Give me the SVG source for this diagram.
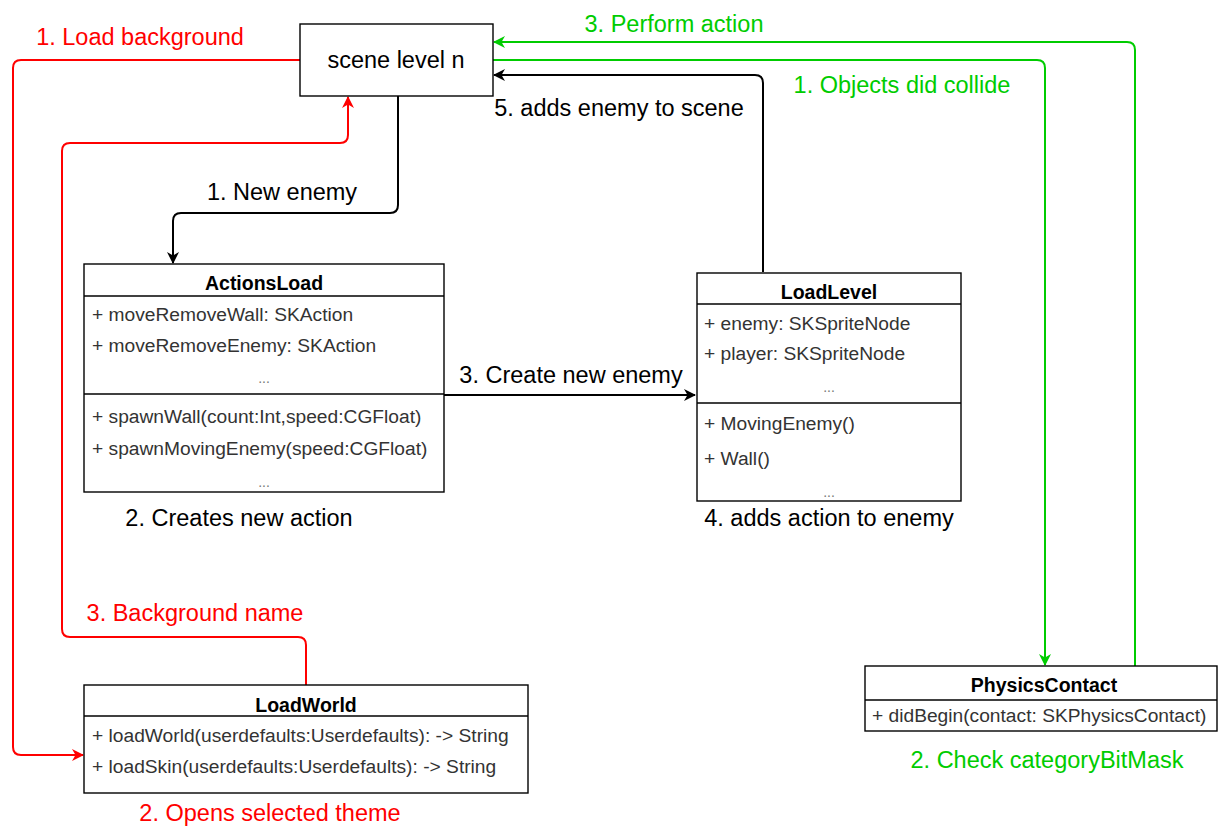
<svg xmlns="http://www.w3.org/2000/svg" width="1218" height="827" viewBox="0 0 1218 827">
<defs>
<marker id="ab" markerWidth="12" markerHeight="12" refX="11" refY="6" orient="auto" markerUnits="userSpaceOnUse"><path d="M0,0 L12,6 L0,12 L3.5,6 z" fill="#000"/></marker>
<marker id="ar" markerWidth="12" markerHeight="12" refX="11" refY="6" orient="auto" markerUnits="userSpaceOnUse"><path d="M0,0 L12,6 L0,12 L3.5,6 z" fill="#ff0000"/></marker>
<marker id="ag" markerWidth="12" markerHeight="12" refX="11" refY="6" orient="auto" markerUnits="userSpaceOnUse"><path d="M0,0 L12,6 L0,12 L3.5,6 z" fill="#00cc00"/></marker>
<style>
text{font-family:"Liberation Sans",Arial,sans-serif}
.box{fill:#fff;stroke:#000;stroke-width:1.4}
.div{stroke:#000;stroke-width:1.4}
.hd{font-size:19.5px;font-weight:bold;text-anchor:middle;fill:#000}
.row{font-size:19.2px;fill:#333}
.dots{font-size:14px;fill:#777;text-anchor:middle}
.lbl{font-size:23.5px;text-anchor:middle}
.k{fill:#000}.r{fill:#ff0000}.g{fill:#00cc00}
.c{fill:none;stroke-width:2;stroke-linejoin:round}
.cb{stroke:#000;marker-end:url(#ab)}
.cr{stroke:#ff0000;marker-end:url(#ar)}
.cg{stroke:#00cc00;marker-end:url(#ag)}
</style>
</defs>
<rect width="1218" height="827" fill="#fff"/>

<g id="connectors">
<path class="c cr" d="M300,60 H21 Q13,60 13,68 V747 Q13,755 21,755 H83"/>
<path class="c cr" d="M306,685 V645 Q306,637 298,637 H70 Q62,637 62,629 V151 Q62,143 70,143 H340 Q348,143 348,135 V97"/>
<path class="c cb" d="M398,96 V205 Q398,213 390,213 H181 Q173,213 173,221 V263"/>
<path class="c cb" d="M444,395 H695"/>
<path class="c cb" d="M763,272 V83 Q763,75 755,75 H494"/>
<path class="c cg" d="M493,60 H1037 Q1045,60 1045,68 V665"/>
<path class="c cg" d="M1135,666 V50 Q1135,42 1127,42 H494"/>
</g>

<g id="labels">
<text class="lbl r" x="140" y="45">1. Load background</text>
<text class="lbl g" x="674" y="32">3. Perform action</text>
<text class="lbl g" x="902" y="93">1. Objects did collide</text>
<text class="lbl k" x="619" y="116">5. adds enemy to scene</text>
<text class="lbl k" x="282" y="200">1. New enemy</text>
<text class="lbl k" x="571" y="383">3. Create new enemy</text>
<text class="lbl k" x="239" y="526">2. Creates new action</text>
<text class="lbl k" x="829" y="526">4. adds action to enemy</text>
<text class="lbl r" x="195" y="621">3. Background name</text>
<text class="lbl r" x="270" y="821">2. Opens selected theme</text>
<text class="lbl g" x="1047" y="768">2. Check categoryBitMask</text>
</g>

<g id="scene">
<rect class="box" x="300" y="24" width="193" height="72"/>
<text class="lbl k" x="396" y="68">scene level n</text>
</g>

<g id="ActionsLoad">
<rect class="box" x="84" y="264" width="360" height="228"/>
<line class="div" x1="84" y1="296" x2="444" y2="296"/>
<line class="div" x1="84" y1="394" x2="444" y2="394"/>
<text class="hd" x="264" y="290">ActionsLoad</text>
<text class="row" x="92" y="321">+ moveRemoveWall: SKAction</text>
<text class="row" x="92" y="352">+ moveRemoveEnemy: SKAction</text>
<text class="dots" x="264" y="383">...</text>
<text class="row" x="92" y="423">+ spawnWall(count:Int,speed:CGFloat)</text>
<text class="row" x="92" y="455">+ spawnMovingEnemy(speed:CGFloat)</text>
<text class="dots" x="264" y="487">...</text>
</g>

<g id="LoadLevel">
<rect class="box" x="697" y="273" width="264" height="228"/>
<line class="div" x1="697" y1="304" x2="961" y2="304"/>
<line class="div" x1="697" y1="403" x2="961" y2="403"/>
<text class="hd" x="829" y="299">LoadLevel</text>
<text class="row" x="704" y="330">+ enemy: SKSpriteNode</text>
<text class="row" x="704" y="360">+ player: SKSpriteNode</text>
<text class="dots" x="829" y="392">...</text>
<text class="row" x="704" y="430">+ MovingEnemy()</text>
<text class="row" x="704" y="465">+ Wall()</text>
<text class="dots" x="829" y="497">...</text>
</g>

<g id="LoadWorld">
<rect class="box" x="84" y="685" width="444" height="108"/>
<line class="div" x1="84" y1="716" x2="528" y2="716"/>
<text class="hd" x="306" y="712">LoadWorld</text>
<text class="row" x="92" y="742">+ loadWorld(userdefaults:Userdefaults): -&gt; String</text>
<text class="row" x="92" y="773">+ loadSkin(userdefaults:Userdefaults): -&gt; String</text>
</g>

<g id="PhysicsContact">
<rect class="box" x="865" y="666" width="352" height="65"/>
<line class="div" x1="865" y1="700" x2="1217" y2="700"/>
<text class="hd" x="1044" y="692">PhysicsContact</text>
<text class="row" x="872" y="722">+ didBegin(contact: SKPhysicsContact)</text>
</g>
</svg>
